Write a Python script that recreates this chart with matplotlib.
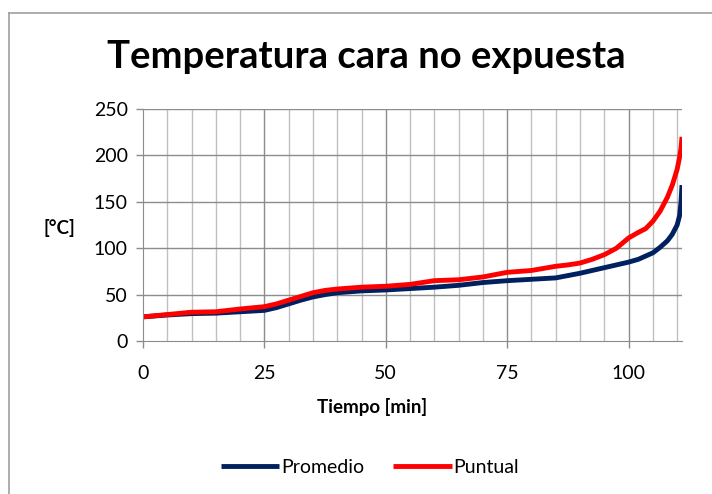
import numpy as np
import matplotlib.pyplot as plt
from matplotlib.lines import Line2D

plt.rcParams['font.family'] = ['Lato', 'DejaVu Sans']

# datos
tiempo = [0, 5, 10, 15, 20, 25, 27.5, 30, 32.5, 35, 37.5, 40, 45, 50, 55, 60, 65, 70,
          75, 80, 85, 87.5, 90, 92.5, 95, 97.5, 100, 102, 103.5, 105, 106.5, 108,
          109, 110, 110.5, 110.8, 111]
promedio = [26, 28, 29.5, 30, 31.5, 33, 36, 40, 44, 47.5, 50, 52, 54, 55, 56.5, 58, 60,
            63, 65, 66.5, 68, 70.5, 73, 76, 79, 82, 85, 88, 91.5, 95, 101, 108,
            115, 125, 135, 150, 168]
puntual = [26, 28.5, 31, 31.5, 34.5, 37, 40, 44, 48, 52, 54.5, 56, 58, 59, 61, 65, 66,
           69, 74, 76, 80.5, 82, 84, 88, 93, 100, 111, 117, 121, 129, 140, 155,
           168, 185, 198, 208, 220]

xticks = [0, 25, 50, 75, 100]
yticks = [0, 50, 100, 150, 200, 250]

fig = plt.figure(figsize=(7.12, 4.94), dpi=100)
ax = fig.add_axes([143/712, 1 - 341/494, (682 - 143)/712, (341 - 109)/494])

# marco del area del grafico (solo izquierda y arriba se ven)
fig.add_artist(Line2D([9/712, 9/712], [0, 1 - 13/494], transform=fig.transFigure,
                      color='#a0a0a0', lw=1.2))
fig.add_artist(Line2D([9/712, 1], [1 - 13/494, 1 - 13/494], transform=fig.transFigure,
                      color='#a0a0a0', lw=1.2))

# rejilla
for x in np.arange(5, 111, 5):
    c = '#8c8c8c' if x % 25 == 0 else '#c0c0c0'
    ax.axvline(x, color=c, lw=1.0, zorder=0)
for y in yticks[1:]:
    ax.axhline(y, color='#8c8c8c', lw=1.0, zorder=0)

ax.plot(tiempo, promedio, color='#002060', lw=3.5, label='Promedio',
        solid_capstyle='butt', solid_joinstyle='round')
ax.plot(tiempo, puntual, color='#ff0000', lw=3.5, label='Puntual',
        solid_capstyle='butt', solid_joinstyle='round')

ax.set_xlim(0, 111)
ax.set_ylim(0, 250)
ax.set_xticks(xticks)
ax.set_yticks(yticks)
ax.tick_params(axis='both', labelsize=14, colors='#8c8c8c', labelcolor='black',
               length=5, width=1)
ax.tick_params(axis='x', pad=12)
ax.tick_params(axis='y', pad=6)
for s in ['top', 'right']:
    ax.spines[s].set_visible(False)
for s in ['left', 'bottom']:
    ax.spines[s].set_color('#8c8c8c')

fig.text(366/712, 1 - 57/494, 'Temperatura cara no expuesta', ha='center', va='center',
         fontsize=27.5, fontweight='bold')
fig.text(372/712, 1 - 407/494, 'Tiempo [min]', ha='center', va='center',
         fontsize=13.5, fontweight='bold')
fig.text(59/712, 1 - 228/494, '[°C]', ha='center', va='center',
         fontsize=13.5, fontweight='bold')

fig.legend(loc='center', bbox_to_anchor=(370/712, 1 - 467/494), ncol=2, frameon=False,
           fontsize=14, handlelength=3, handletextpad=0.1, columnspacing=1.5)

fig.savefig('out.png', dpi=100)
